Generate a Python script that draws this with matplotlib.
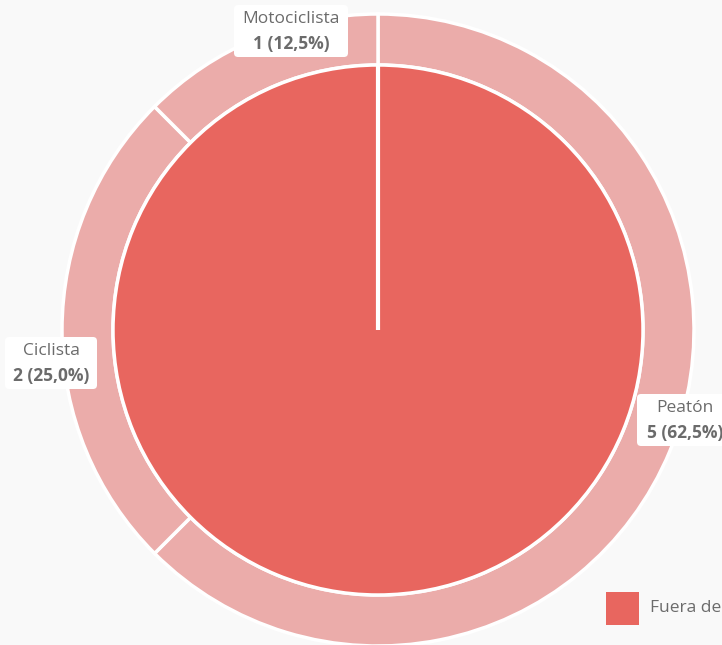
import matplotlib.pyplot as plt
from matplotlib.patches import Rectangle, FancyBboxPatch

# data
categories = ["Peatón", "Ciclista", "Motociclista"]
counts = [5, 2, 1]
inner_labels = ["Fuera de"]
inner_counts = [8]

RED = "#E8665F"
PINK = "#EBACAA"
GREY = "#6B6B6B"
BG = "#F9F9F9"

W, H = 722, 645
fig = plt.figure(figsize=(W / 100, H / 100), dpi=100, facecolor=BG)
ax = fig.add_axes([0, 0, 1, 1])

cx, cy = 378, H - 330
r_out, r_in = 316, 265

# outer ring
ax.pie(counts, radius=r_out, center=(cx, cy), startangle=90,
       counterclock=False, colors=[PINK] * len(counts),
       wedgeprops=dict(width=r_out - r_in, edgecolor="white", linewidth=2.5))
# inner pie
ax.pie(inner_counts, radius=r_in, center=(cx, cy), startangle=90,
       counterclock=False, colors=[RED],
       wedgeprops=dict(edgecolor="white", linewidth=2.5))
# start line of the single inner slice
ax.plot([cx, cx], [cy, cy + r_in], color="white", lw=3, solid_capstyle="butt")

ax.set_xlim(0, W)
ax.set_ylim(0, H)
ax.set_aspect("equal")
ax.axis("off")

# labels: box centre and width, pixels from top-left
label_pos = [(685, 420, 96), (51, 363, 92), (291, 31, 114)]
total = sum(counts)
for name, n, (lx, ly, bw) in zip(categories, counts, label_pos):
    pct = f"{100 * n / total:.1f}".replace(".", ",")
    y = H - ly
    ax.add_patch(FancyBboxPatch((lx - bw / 2, y - 26), bw, 52,
                                boxstyle="round,pad=0,rounding_size=4",
                                fc="white", ec="none", zorder=4))
    ax.text(lx, y + 12, name, ha="center", va="center", fontsize=12.5,
            color=GREY, family="Open Sans", zorder=5)
    ax.text(lx, y - 13, f"{n} ({pct}%)", ha="center", va="center", fontsize=12.5,
            color=GREY, family="Open Sans", fontweight="bold", zorder=5)

# legend
ax.add_patch(Rectangle((606, H - 625), 33, 33, fc=RED, ec="none"))
ax.text(650, H - 608, inner_labels[0], ha="left", va="center", fontsize=12.5,
        color=GREY, family="Open Sans")

fig.savefig("out.png", dpi=100, facecolor=BG)
